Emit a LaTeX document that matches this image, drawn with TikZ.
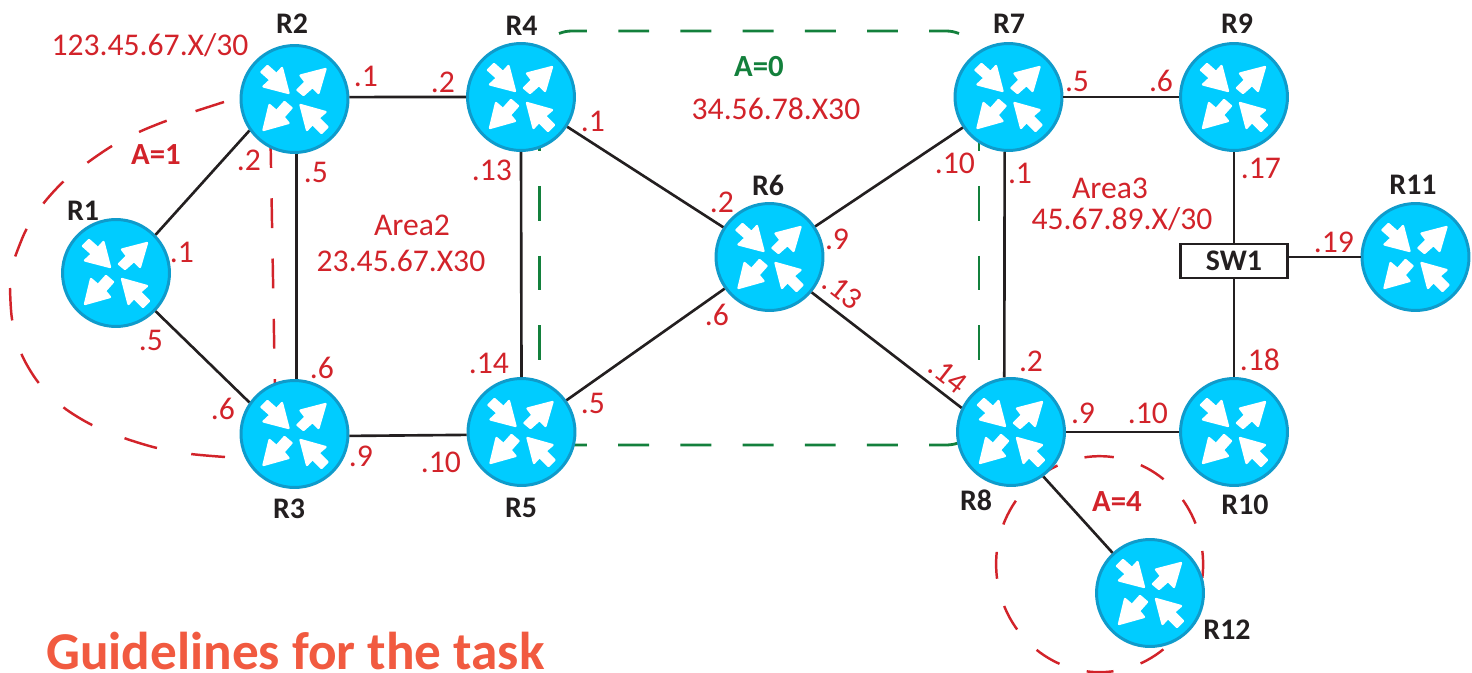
\documentclass[tikz,border=0pt]{standalone}
\usepackage{fontspec}
\setmainfont{Carlito}
\usepackage{tikz}
\definecolor{routerfill}{HTML}{00CCFF}
\definecolor{routerline}{HTML}{0F9BCB}
\definecolor{labelred}{HTML}{D2232A}
\definecolor{areagreen}{HTML}{13803C}
\definecolor{linkblack}{HTML}{231F20}
\definecolor{titleorange}{HTML}{F15A40}
\newcommand{\routerarrows}{
	\begin{scope}[shift={(path picture bounding box.center)}, x=.02cm, y=-.02cm]
		\fill [white, draw=white, line width=1.3pt, line join=round] (-6,-6) -- (-12.5,-31) -- (-18,-25) -- (-27,-33) -- (-33,-27) -- (-24,-19) -- (-31,-12.5) -- cycle;
		\fill [white, draw=white, line width=1.3pt, line join=round] (31,-30) -- (6,-23.5) -- (11,-17) -- (3,-9) -- (9,-4) -- (18,-12) -- (24,-6) -- cycle;
		\fill [white, draw=white, line width=1.3pt, line join=round] (-31,31) -- (-6,24) -- (-11,18) -- (-3,9) -- (-10,3) -- (-18,12) -- (-25,6) -- cycle;
		\fill [white, draw=white, line width=1.3pt, line join=round] (6,6) -- (12.5,31) -- (18,25) -- (27,34) -- (33,28) -- (24,19) -- (31,13) -- cycle;
	\end{scope}
}
\tikzset{
	router/.style = {circle, fill=routerfill, draw=routerline, line width=1.7pt, minimum size=2.14cm, inner sep=0, path picture={\routerarrows}},
	link/.style = {draw=linkblack, line width=1.5pt},
	rname/.style = {inner sep=0, text=linkblack, font=\fontsize{17}{18}\selectfont\bfseries},
	addr/.style = {inner sep=0, text=labelred, font=\fontsize{18}{20}\selectfont},
	areared/.style = {inner sep=0, text=labelred, font=\fontsize{17.5}{20}\selectfont\bfseries},
	redline/.style = {draw=labelred, line width=1.4pt},
	greenline/.style = {draw=areagreen, line width=1.6pt}
}
\begin{document}
\begin{tikzpicture}[x=.02cm, y=-.02cm]
	\useasboundingbox (0,0) rectangle (1472,673);

	\draw [redline, dash pattern=on 17pt off 17.3pt] plot [smooth] coordinates {(224,102) (196,111) (166,121) (139,132) (112,146) (87,163) (63,182) (43,204) (26,230) (15,257)};
	\draw [redline, dash pattern=on 19.3pt off 19.8pt] plot [smooth] coordinates {(225,457) (191,454) (157,448) (124,438) (92,425) (63,407) (38,382) (21,353) (12,319) (10,288)};
	\draw [redline, dash pattern=on 17pt off 17.3pt] (270.5,138) -- (275,390);
	\draw [redline, dash pattern=on 15.3pt off 16.1pt] (1087,457) arc [start angle=-97, delta angle=360, x radius=103.5, y radius=108];

	\draw [greenline, dash pattern=on 17.6pt off 17.8pt, dash phase=1.5pt] (559,33.5) .. controls (563,32) and (567,31) .. (572,31) -- (946,31) .. controls (951,31) and (955,32) .. (959,33.5);
	\draw [greenline, dash pattern=on 17.6pt off 17.8pt] (556,445) -- (945,445) .. controls (950,445) and (954,444.5) .. (958,443);
	\draw [greenline, dash pattern=on 19.85pt off 19.85pt] (539.7,116) -- (539.7,361);
	\draw [greenline, dash pattern=on 19.85pt off 19.85pt] (979,116) -- (979,361);

	\node [router] (R1) at (116,273) {};
	\node [router] (R2) at (294.5,99) {};
	\node [router] (R3) at (294.5,434) {};
	\node [router] (R4) at (521,97) {};
	\node [router] (R5) at (521.5,432) {};
	\node [router] (R6) at (769.5,257) {};
	\node [router] (R7) at (1008.5,97) {};
	\node [router] (R8) at (1011,432) {};
	\node [router] (R9) at (1234,97) {};
	\node [router] (R10) at (1234,432) {};
	\node [router] (R11) at (1415.5,257) {};
	\node [router] (R12) at (1150,593) {};
	\node [draw=linkblack, line width=1.5pt, minimum width=2.14cm, minimum height=.68cm, inner sep=0, text=linkblack, font=\fontsize{17}{20}\selectfont\bfseries] (SW1) at (1234,261) {SW1};

	\draw [link] (R1.44) -- (R2.215);
	\draw [link] (R1.-44) -- (R3.145);
	\draw [link] (R2.-88) -- (R3.88);
	\draw [link] (R2.2) -- (R4.west);
	\draw [link] (R3.-2) -- (R5.183);
	\draw [link] (R4.south) -- (R5.north);
	\draw [link] (R4) -- (R6);
	\draw [link] (R5) -- (R6);
	\draw [link] (R6) -- (R7);
	\draw [link] (R6.-40) -- (R8.154);
	\draw [link] (R7.266) -- (R8.97);
	\draw [link] (R7.east) -- (R9.west);
	\draw [link] (R8) -- (R10);
	\draw [link] (R8.-54) -- (R12.133);
	\draw [link] (R9) -- (SW1);
	\draw [link] (SW1) -- (R10);
	\draw [link] (R11.west -| SW1.east) -- (R11.west);

	\node [rname] (nameR1) at (83,211) {R1};
	\node [rname] (nameR2) at (292,24) {R2};
	\node [rname] (nameR3) at (289,509) {R3};
	\node [rname] (nameR4) at (521.5,25.5) {R4};
	\node [rname] (nameR5) at (521,508) {R5};
	\node [rname] (nameR6) at (768,185) {R6};
	\node [rname] (nameR7) at (1009,24) {R7};
	\node [rname] (nameR8) at (976,500) {R8};
	\node [rname] (nameR9) at (1237,24) {R9};
	\node [rname] (nameR10) at (1245,505) {R10};
	\node [rname] (nameR11) at (1413,185) {R11};
	\node [rname] (nameR12) at (1227,630) {R12};

	\node [areared] (areaA1) at (156,155) {A=1};
	\node [areared] (areaA4) at (1117,502) {A=4};
	\node [areared, text=areagreen] (areaA0) at (759,67) {A=0};

	\node [addr] (net1) at (150,45) {123.45.67.X/30};
	\node [addr] (net2a) at (412,225) {Area2};
	\node [addr] (net2b) at (401,261) {23.45.67.X30};
	\node [addr] (net0) at (776,109) {34.56.78.X30};
	\node [addr] (net3a) at (1110,188) {Area3};
	\node [addr] (net3b) at (1122,219) {45.67.89.X/30};

	\node [addr] (ipR1a) at (182,252) {.1};
	\node [addr] (ipR1b) at (151,340) {.5};
	\node [addr] (ipR2a) at (249,160) {.2};
	\node [addr] (ipR2b) at (316,172) {.5};
	\node [addr] (ipR2c) at (366,76) {.1};
	\node [addr] (ipR3a) at (223,409) {.6};
	\node [addr] (ipR3b) at (322,368) {.6};
	\node [addr] (ipR3c) at (361,456) {.9};
	\node [addr] (ipR4a) at (443,82) {.2};
	\node [addr] (ipR4b) at (492,170) {.13};
	\node [addr] (ipR4c) at (593,121) {.1};
	\node [addr] (ipR5a) at (441,462) {.10};
	\node [addr] (ipR5b) at (489,363) {.14};
	\node [addr] (ipR5c) at (593,403) {.5};
	\node [addr] (ipR6a) at (722,202) {.2};
	\node [addr] (ipR6b) at (837,239) {.9};
	\node [addr] (ipR6c) at (717,315) {.6};
	\node [addr, rotate=-38] (ipR6d) at (843,291) {.13};
	\node [addr] (ipR7a) at (955,163) {.10};
	\node [addr] (ipR7b) at (1020,173) {.1};
	\node [addr] (ipR7c) at (1077,81) {.5};
	\node [addr, rotate=-38] (ipR8a) at (948,375) {.14};
	\node [addr] (ipR8b) at (1031,361) {.2};
	\node [addr] (ipR8c) at (1083,413) {.9};
	\node [addr] (ipR9a) at (1161,81) {.6};
	\node [addr] (ipR9b) at (1261,168) {.17};
	\node [addr] (ipR10a) at (1148,413) {.10};
	\node [addr] (ipR10b) at (1260,360) {.18};
	\node [addr] (ipR11) at (1334,242) {.19};

	\node [anchor=west, inner sep=0, text=titleorange, font=\fontsize{30.3}{32}\selectfont\bfseries] (title) at (46,651) {Guidelines for the task};
\end{tikzpicture}
\end{document}
